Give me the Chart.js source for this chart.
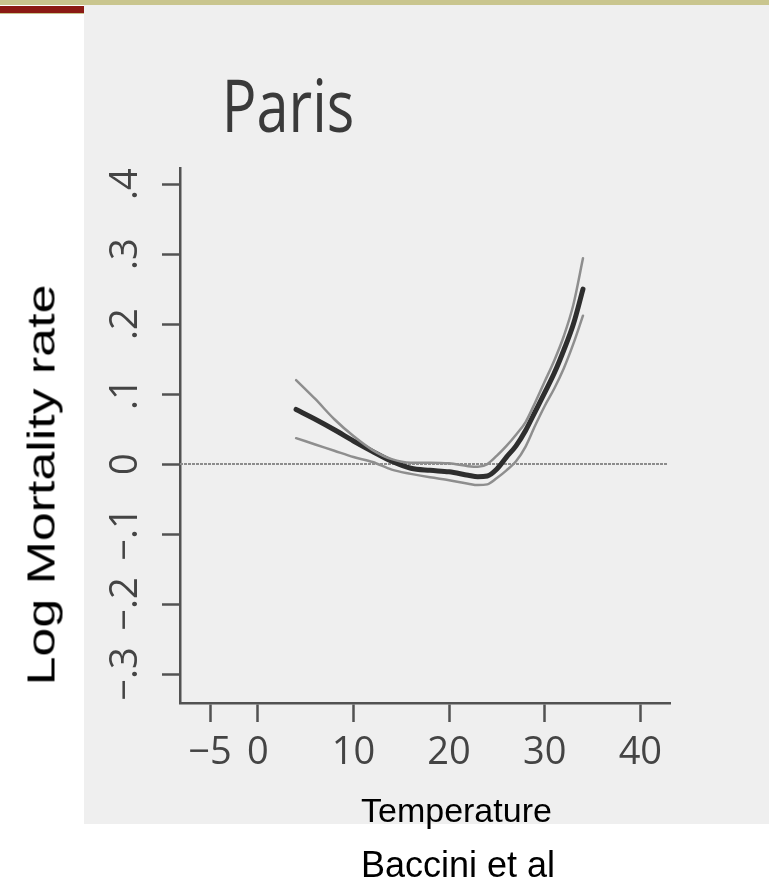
<!DOCTYPE html>
<html>
<head>
<meta charset="utf-8">
<script src="https://cdn.jsdelivr.net/npm/chart.js@4.4.0/dist/chart.umd.min.js"></script>
<style>
  html, body { margin: 0; padding: 0; background: #fff; }
  #wrap { position: relative; width: 769px; height: 889px; overflow: hidden; }
  #chart { position: absolute; left: 0; top: 0; filter: blur(0.5px); }
  .label { position: absolute; font-family: "Liberation Sans", Arial, sans-serif; color: #000; line-height: 1; white-space: nowrap; }
  #ylabel { left: 41px; top: 485px; font-size: 39px; transform: translate(-50%, -50%) rotate(-90deg) scaleX(1.33); }
  #xlabel { left: 361px; top: 793px; font-size: 34px; }
  #source { left: 361px; top: 847px; font-size: 36px; }
</style>
</head>
<body>
<div id="wrap">
  <canvas id="chart" width="769" height="889"></canvas>
  <div class="label" id="ylabel">Log Mortality rate</div>
  <div class="label" id="xlabel">Temperature</div>
  <div class="label" id="source">Baccini et al</div>
</div>
<script>
// temperature (deg C) vs log mortality, fitted curve with its band
const temps = [4, 6, 8, 10, 12, 14, 16, 18, 20, 22, 23, 24, 25, 26, 27, 28, 29, 30, 31, 32, 33, 34];
const fitted = [0.078, 0.064, 0.049, 0.033, 0.018, 0.004, -0.006, -0.009, -0.011, -0.016, -0.018, -0.017, -0.007, 0.010, 0.026, 0.048, 0.075, 0.102, 0.130, 0.163, 0.200, 0.250];
const upperBand = [0.120, 0.093, 0.064, 0.040, 0.020, 0.007, 0.002, 0.002, 0.001, -0.003, -0.004, 0.000, 0.012, 0.026, 0.042, 0.060, 0.088, 0.118, 0.148, 0.183, 0.228, 0.294];
const lowerBand = [0.037, 0.028, 0.019, 0.010, 0.003, -0.008, -0.014, -0.019, -0.023, -0.028, -0.030, -0.029, -0.020, -0.009, 0.004, 0.025, 0.055, 0.083, 0.108, 0.137, 0.172, 0.212];

const xTickValues = [-5, 0, 10, 20, 30, 40];
const xTickLabels = ['\u22125', '0', '10', '20', '30', '40'];
const yTickValues = [-0.3, -0.2, -0.1, 0, 0.1, 0.2, 0.3, 0.4];
const yTickLabels = ['\u2212.3', '\u2212.2', '\u2212.1', '0', '.1', '.2', '.3', '.4'];

const cityName = 'Paris';

const axisColor = '#525252';
const textColor = '#444';
const humanist = '"Open Sans", "Noto Sans", sans-serif';

function toPoints(values) {
    return temps.map((t, i) => ({ x: t, y: values[i] }));
}

// page frame, scanned panel, title, rotated y ticks and the zero reference line
const panelPlugin = {
    id: 'panel',
    beforeDraw(chart) {
        const ctx = chart.ctx;
        ctx.save();
        ctx.fillStyle = '#fff';
        ctx.fillRect(0, 0, chart.width, chart.height);
        ctx.fillStyle = '#efefef';
        ctx.fillRect(84, 5, chart.width - 84, 819);
        ctx.fillStyle = '#c9c58e';
        ctx.fillRect(0, 0, chart.width, 5);
        ctx.fillStyle = '#8b1a14';
        ctx.fillRect(0, 6, 84, 7);
        ctx.fillStyle = '#c9c58e';
        ctx.fillRect(0, 13, 84, 1);
        ctx.restore();
    },
    beforeDatasetsDraw(chart) {
        const ctx = chart.ctx;
        const area = chart.chartArea;
        const y0 = chart.scales.y.getPixelForValue(0);
        ctx.save();
        ctx.strokeStyle = '#8c8c8c';
        ctx.lineWidth = 2;
        ctx.setLineDash([3, 1]);
        ctx.beginPath();
        ctx.moveTo(area.left, y0);
        ctx.lineTo(area.right - 2, y0);
        ctx.stroke();
        ctx.restore();
    },
    afterDraw(chart) {
        const ctx = chart.ctx;
        const yScale = chart.scales.y;
        ctx.save();
        ctx.fillStyle = textColor;
        ctx.font = '38px ' + humanist;
        ctx.textAlign = 'center';
        ctx.textBaseline = 'alphabetic';
        yTickValues.forEach((v, i) => {
            ctx.save();
            ctx.translate(137, yScale.getPixelForValue(v));
            ctx.rotate(-Math.PI / 2);
            ctx.fillText(yTickLabels[i], 0, 0);
            ctx.restore();
        });
        // title set a little narrower than the font's natural width
        ctx.fillStyle = '#3a3a3a';
        ctx.font = '74px ' + humanist;
        ctx.translate(288, 132);
        ctx.scale(0.78, 1);
        ctx.fillText(cityName, 0, 0);
        ctx.restore();
    }
};

new Chart(document.getElementById('chart'), {
    type: 'line',
    data: {
        datasets: [
            {
                label: 'Upper',
                data: toPoints(upperBand),
                borderColor: '#8e8e8e',
                borderWidth: 2.5
            },
            {
                label: 'Lower',
                data: toPoints(lowerBand),
                borderColor: '#8e8e8e',
                borderWidth: 2.5
            },
            {
                label: 'Fitted',
                data: toPoints(fitted),
                borderColor: '#2e2e2e',
                borderWidth: 5
            }
        ]
    },
    options: {
        responsive: false,
        animation: false,
        layout: { padding: { left: 0, top: 168, right: 99, bottom: 0 } },
        elements: {
            point: { radius: 0 },
            line: { cubicInterpolationMode: 'monotone', borderCapStyle: 'round' }
        },
        plugins: {
            legend: { display: false },
            tooltip: { enabled: false }
        },
        scales: {
            x: {
                type: 'linear',
                min: -8.14,
                max: 43.1,
                afterBuildTicks: scale => {
                    scale.ticks = xTickValues.map(v => ({ value: v }));
                },
                afterFit: scale => { scale.height = 186; },
                grid: { drawOnChartArea: false, tickLength: 19, tickColor: axisColor, tickWidth: 2.5 },
                border: { color: axisColor, width: 2.5 },
                ticks: {
                    autoSkip: false,
                    maxRotation: 0,
                    minRotation: 0,
                    padding: 8,
                    color: textColor,
                    font: { family: humanist, size: 38 },
                    callback: (value, index) => xTickLabels[index]
                }
            },
            y: {
                type: 'linear',
                min: -0.3414,
                max: 0.423,
                afterBuildTicks: scale => {
                    scale.ticks = yTickValues.map(v => ({ value: v }));
                },
                afterFit: scale => { scale.width = 180; },
                grid: { drawOnChartArea: false, tickLength: 18, tickColor: axisColor, tickWidth: 2.5 },
                border: { color: axisColor, width: 2.5 },
                ticks: { display: false }
            }
        }
    },
    plugins: [panelPlugin]
});
</script>
</body>
</html>
